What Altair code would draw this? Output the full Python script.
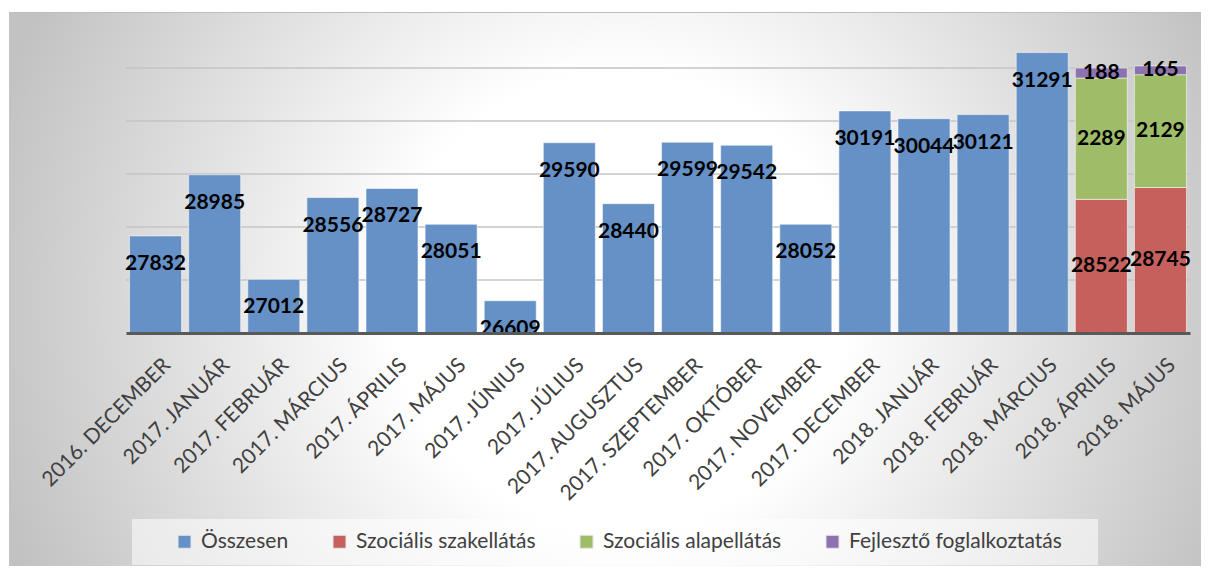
import altair as alt
import pandas as pd

months = ["2016. DECEMBER", "2017. JANUÁR", "2017. FEBRUÁR", "2017. MÁRCIUS",
          "2017. ÁPRILIS", "2017. MÁJUS", "2017. JÚNIUS", "2017. JÚLIUS",
          "2017. AUGUSZTUS", "2017. SZEPTEMBER", "2017. OKTÓBER", "2017. NOVEMBER",
          "2017. DECEMBER", "2018. JANUÁR", "2018. FEBRUÁR", "2018. MÁRCIUS",
          "2018. ÁPRILIS", "2018. MÁJUS"]
osszesen = [27832, 28985, 27012, 28556, 28727, 28051, 26609, 29590, 28440,
            29599, 29542, 28052, 30191, 30044, 30121, 31291, None, None]
szakellatas = [None] * 16 + [28522, 28745]
alapellatas = [None] * 16 + [2289, 2129]
fejleszto = [None] * 16 + [188, 165]
series_names = ["Összesen", "Szociális szakellátás", "Szociális alapellátás",
                "Fejlesztő foglalkoztatás"]
series_colors = ["#6691c6", "#c5605d", "#9fbd68", "#8c72ae"]
axis_min, axis_max = 26000, 32000
grid_values = [27000, 28000, 29000, 30000, 31000]

rows = []
for i, m in enumerate(months):
    cum = 0
    for name, vals in zip(series_names, [osszesen, szakellatas, alapellatas, fejleszto]):
        v = vals[i]
        if v is None:
            continue
        lo = max(cum, axis_min)
        cum += v
        hi = cum
        if name == "Összesen":
            rows.append(dict(month=m, series=name, value=v, lo=lo, hi=hi, ly=hi, kind="end"))
        else:
            rows.append(dict(month=m, series=name, value=v, lo=lo, hi=hi, ly=(lo + hi) / 2, kind="mid"))
df = pd.DataFrame(rows)
grid_df = pd.DataFrame({"g": grid_values})

W, H = 1064, 318
FONT = "Lato"
yscale = alt.Scale(domain=[axis_min, axis_max], zero=False, nice=False)
xenc = alt.X("month:N", sort=months,
             scale=alt.Scale(paddingInner=0.12, paddingOuter=0.06),
             axis=alt.Axis(title=None, labelAngle=-45, labelAlign="right",
                           labelBaseline="top", labelFont=FONT, labelFontSize=21,
                           labelColor="#404040", labelOffset=4, labelPadding=21,
                           ticks=False, tickSize=0, domainColor="#595959",
                           domainWidth=3, grid=False, zindex=1, labelLimit=400,
                           labelOverlap=False))

one = alt.Data(values=[{"a": 1}])
gradient = {"gradient": "radial", "x1": 0.5, "y1": 0.5, "r1": 0,
            "x2": 0.5, "y2": 0.5, "r2": 0.5,
            "stops": [{"offset": 0, "color": "#ffffff"},
                      {"offset": 0.35, "color": "#ffffff"},
                      {"offset": 1, "color": "#c2c2c2"}]}

bg = alt.Chart(one).mark_rect(fill=gradient).encode(
    x=alt.value(-156), x2=alt.value(1144), y=alt.value(-365), y2=alt.value(935))
top_strip = alt.Chart(one).mark_rect(fill="white").encode(
    x=alt.value(-120), x2=alt.value(1100), y=alt.value(-10), y2=alt.value(-3))
left_strip = alt.Chart(one).mark_rect(fill="white").encode(
    x=alt.value(-120), x2=alt.value(-117), y=alt.value(-10), y2=alt.value(560))
border = alt.Chart(one).mark_rule(color="#bdbdbd", strokeWidth=1).encode(
    x=alt.value(-117), x2=alt.value(1100), y=alt.value(-2.5))
legend_box = alt.Chart(one).mark_rect(fill="white", fillOpacity=0.55).encode(
    x=alt.value(6), x2=alt.value(972), y=alt.value(504), y2=alt.value(550))

grid = alt.Chart(grid_df).mark_rule(color="#c4c4c4", strokeWidth=1.5).encode(
    y=alt.Y("g:Q", scale=yscale, axis=None), x=alt.value(0), x2=alt.value(W))

bars = alt.Chart(df).mark_bar(stroke="white", strokeWidth=1, strokeOpacity=0.55).encode(
    x=xenc,
    y=alt.Y("hi:Q", scale=yscale, axis=None),
    y2="lo:Q",
    color=alt.Color("series:N",
                    scale=alt.Scale(domain=series_names, range=series_colors),
                    legend=alt.Legend(title=None, orient="none", legendX=48, legendY=516,
                                      direction="horizontal", symbolType="square",
                                      symbolSize=169, labelFont=FONT, labelFontSize=21,
                                      labelColor="#404040", columnPadding=40,
                                      labelOffset=6, padding=0, zindex=1,
                                      labelLimit=400, symbolStrokeColor="#e6e6e6",
                                      symbolStrokeWidth=1)),
)

labels_end = alt.Chart(df).transform_filter(alt.datum.kind == "end").mark_text(
    font=FONT, fontWeight="bold", fontSize=21, color="black", baseline="middle", dy=28
).encode(x=xenc, y=alt.Y("ly:Q", scale=yscale, axis=None),
         text=alt.Text("value:Q", format="d"))

labels_mid = alt.Chart(df).transform_filter(alt.datum.kind == "mid").mark_text(
    font=FONT, fontWeight="bold", fontSize=21, color="black", baseline="middle"
).encode(x=xenc, y=alt.Y("ly:Q", scale=yscale, axis=None),
         text=alt.Text("value:Q", format="d"))

chart = alt.layer(bg, top_strip, left_strip, border, legend_box, grid, bars,
                  labels_end, labels_mid).properties(
    width=W, height=H,
    padding={"left": 118, "top": 7, "right": 11, "bottom": 233},
    autosize=alt.AutoSizeParams(type="none"),
).configure_view(stroke=None).configure(background="white")

chart.save("out.html", embed_options={"renderer": "svg", "actions": False})
